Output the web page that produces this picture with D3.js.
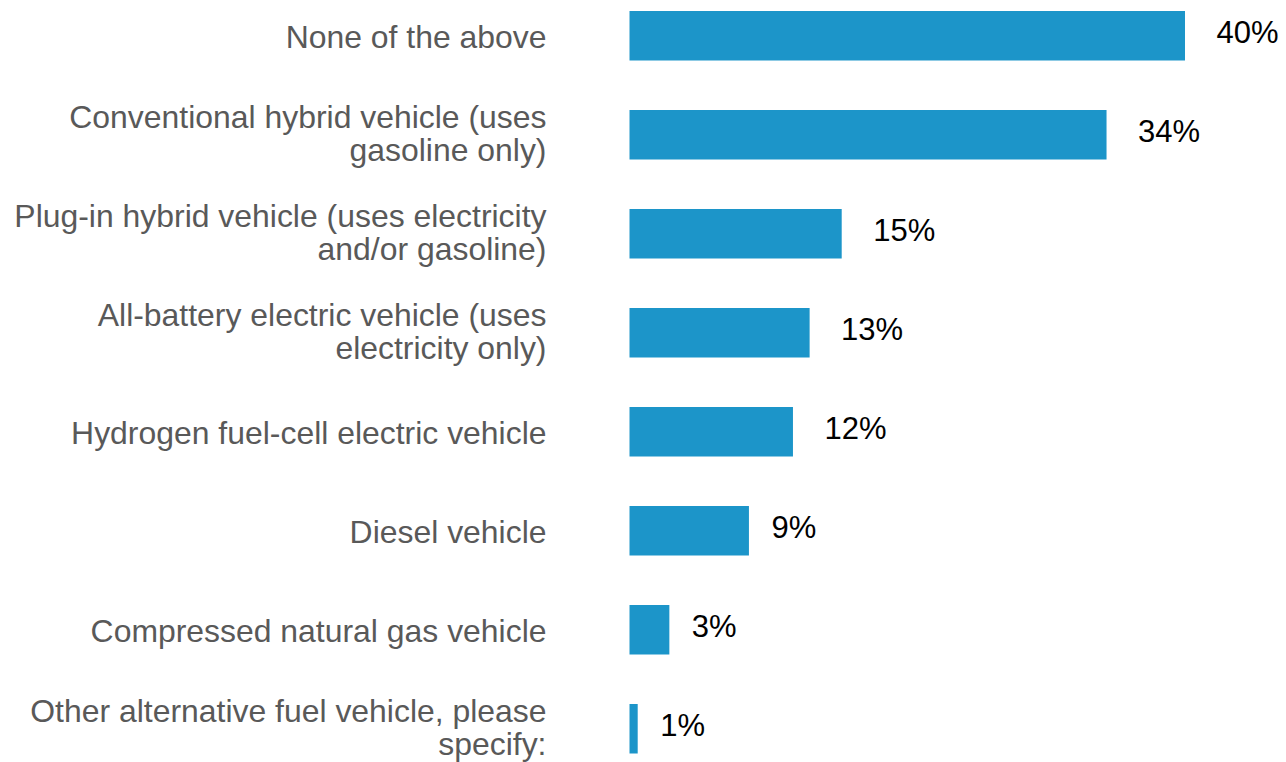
<!DOCTYPE html>
<html>
<head>
<meta charset="utf-8">
<script src="https://cdn.jsdelivr.net/npm/d3@7"></script>
<style>
  html, body { margin: 0; padding: 0; background: #ffffff; }
  svg { display: block; }
</style>
</head>
<body>
<svg id="chart" width="1286" height="762"></svg>
<script>
const categories = [
  "None of the above",
  "Conventional hybrid vehicle (uses\ngasoline only)",
  "Plug-in hybrid vehicle (uses electricity\nand/or gasoline)",
  "All-battery electric vehicle (uses\nelectricity only)",
  "Hydrogen fuel-cell electric vehicle",
  "Diesel vehicle",
  "Compressed natural gas vehicle",
  "Other alternative fuel vehicle, please\nspecify:"
];
const values = [40.0, 34.35, 15.28, 12.97, 11.77, 8.6, 2.87, 0.59];
const valueLabels = ["40%", "34%", "15%", "13%", "12%", "9%", "3%", "1%"];

const svg = d3.select("#chart");

const x = d3.scaleLinear().domain([0, 40]).range([629.5, 1185]);
const y = d3.scaleBand().domain(categories).range([-13.75, 778.25])
  .paddingInner(0.5).paddingOuter(0.25);

const barColor = "#1c95c9";
const fontFamily = "'Liberation Sans', Arial, sans-serif";
const catSize = 31, catScaleX = 1.03, lineGap = 33;
const valSize = 31;

// bars
svg.append("g").selectAll("rect")
  .data(categories)
  .join("rect")
  .attr("x", x(0))
  .attr("y", d => y(d))
  .attr("width", (d, i) => x(values[i]) - x(0))
  .attr("height", y.bandwidth())
  .attr("fill", barColor);

// category labels
const labelRight = 546.5;
const catG = svg.append("g").selectAll("g")
  .data(categories)
  .join("g")
  .attr("transform", d => {
    const shift = d.includes("\n") ? -1.5 : 1;
    return `translate(${labelRight},${y(d) + y.bandwidth() / 2 + shift}) scale(${catScaleX},1)`;
  });

catG.each(function(d) {
  const lines = d.split("\n");
  const g = d3.select(this);
  const n = lines.length;
  lines.forEach((ln, k) => {
    const offset = (k - (n - 1) / 2) * lineGap + catSize * 0.716 / 2;
    g.append("text")
      .attr("x", 0)
      .attr("y", offset)
      .attr("text-anchor", "end")
      .attr("font-family", fontFamily)
      .attr("font-size", catSize)
      .attr("fill", "#595959")
      .text(ln);
  });
});

// value labels
svg.append("g").selectAll("text")
  .data(categories)
  .join("text")
  .attr("x", (d, i) => x(values[i]) + 4.5 + 9 * valueLabels[i].length)
  .attr("y", d => y(d) + y.bandwidth() / 2 - 4 + valSize * 0.716 / 2)
  .attr("font-family", fontFamily)
  .attr("font-size", valSize)
  .attr("fill", "#000000")
  .text((d, i) => valueLabels[i]);
</script>
</body>
</html>
